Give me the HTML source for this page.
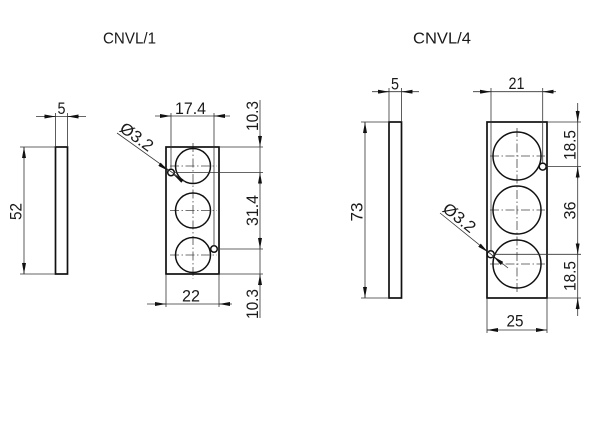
<!DOCTYPE html>
<html><head><meta charset="utf-8"><style>
html,body{margin:0;padding:0;background:#fff;}
svg{display:block;}
text{font-family:"Liberation Sans",sans-serif;fill:#1a1a1a;}
.o{fill:none;stroke:#111;stroke-width:1.7;}
.c{fill:none;stroke:#111;stroke-width:1.5;}
.t{fill:none;stroke:#333;stroke-width:0.8;}
.cl{fill:none;stroke:#444;stroke-width:0.8;stroke-dasharray:9 2.5 1.5 2.5;}
.a{fill:none;stroke:#333;stroke-width:0.8;marker-end:url(#ar);}
.d{font-size:16.5px;}
.ti{font-size:16px;}
</style></head><body>
<svg width="600" height="422" viewBox="0 0 600 422" xmlns="http://www.w3.org/2000/svg">
<defs>
<marker id="ar" viewBox="0 0 11 4" refX="11" refY="2" markerWidth="11" markerHeight="4" markerUnits="userSpaceOnUse" orient="auto"><path d="M0,0L11,2L0,4z" fill="#111"/></marker>
</defs>
<rect width="600" height="422" fill="#fff"/>

<!-- LEFT GROUP -->
<text class="ti" x="103" y="43.5" textLength="53" lengthAdjust="spacingAndGlyphs">CNVL/1</text>

<!-- side plate -->
<rect class="o" x="55.5" y="147" width="12" height="127"/>
<line class="t" x1="36" y1="116.5" x2="86" y2="116.5"/>
<line class="t" x1="55.5" y1="113" x2="55.5" y2="147"/>
<line class="t" x1="67.5" y1="113" x2="67.5" y2="147"/>
<path class="a" d="M44,116.5L55.5,116.5"/>
<path class="a" d="M79,116.5L67.5,116.5"/>
<text class="d" x="61.5" y="114" text-anchor="middle" textLength="8" lengthAdjust="spacingAndGlyphs">5</text>
<line class="t" x1="24" y1="147" x2="24" y2="274"/>
<line class="t" x1="20" y1="147" x2="55" y2="147"/>
<line class="t" x1="20" y1="274" x2="55" y2="274"/>
<path class="a" d="M24,159L24,147"/>
<path class="a" d="M24,262L24,274"/>
<text class="d" x="21.5" y="211.5" text-anchor="middle" textLength="17" lengthAdjust="spacingAndGlyphs" transform="rotate(-90 21.5 211.5)">52</text>

<!-- front view -->
<line class="cl" x1="193" y1="143" x2="193" y2="279"/>
<line class="cl" x1="170" y1="166" x2="217" y2="166"/>
<line class="cl" x1="170" y1="210.5" x2="217" y2="210.5"/>
<line class="cl" x1="170" y1="255" x2="217" y2="255"/>
<rect class="o" x="166" y="147" width="53" height="127"/>
<circle class="c" cx="193" cy="166" r="17.5"/>
<circle class="c" cx="193" cy="210.5" r="17.5"/>
<circle class="c" cx="193" cy="255" r="17.5"/>
<circle class="c" cx="171" cy="172.5" r="3.3" stroke-width="1.2"/>
<circle class="c" cx="214" cy="249" r="3.3" stroke-width="1.2"/>

<!-- dim 17.4 -->
<line class="t" x1="155" y1="116" x2="230" y2="116"/>
<line class="t" x1="171" y1="113" x2="171" y2="169"/>
<line class="t" x1="214" y1="113" x2="214" y2="246"/>
<path class="a" d="M160,116L171,116"/>
<path class="a" d="M225,116L214,116"/>
<text class="d" x="190.5" y="114" text-anchor="middle" textLength="31" lengthAdjust="spacingAndGlyphs">17.4</text>

<!-- dim 22 -->
<line class="t" x1="147" y1="304" x2="232" y2="304"/>
<line class="t" x1="166" y1="274" x2="166" y2="307"/>
<line class="t" x1="219" y1="274" x2="219" y2="307"/>
<path class="a" d="M155,304L166,304"/>
<path class="a" d="M230,304L219,304"/>
<text class="d" x="191" y="301.5" text-anchor="middle" textLength="18" lengthAdjust="spacingAndGlyphs">22</text>

<!-- right vertical dims -->
<line class="t" x1="260" y1="100" x2="260" y2="318"/>
<line class="t" x1="219" y1="147" x2="263" y2="147"/>
<line class="t" x1="174" y1="172.5" x2="263" y2="172.5"/>
<line class="t" x1="217" y1="249" x2="263" y2="249"/>
<line class="t" x1="219" y1="274" x2="263" y2="274"/>
<path class="a" d="M260,135L260,147"/>
<path class="a" d="M260,184.5L260,172.5"/>
<path class="a" d="M260,237L260,249"/>
<path class="a" d="M260,286L260,274"/>
<text class="d" x="258" y="116" text-anchor="middle" textLength="30" lengthAdjust="spacingAndGlyphs" transform="rotate(-90 258 116)">10.3</text>
<text class="d" x="258" y="210.5" text-anchor="middle" textLength="31" lengthAdjust="spacingAndGlyphs" transform="rotate(-90 258 210.5)">31.4</text>
<text class="d" x="258" y="304" text-anchor="middle" textLength="30" lengthAdjust="spacingAndGlyphs" transform="rotate(-90 258 304)">10.3</text>

<!-- leader Ø3.2 left -->
<line class="t" x1="117" y1="133" x2="185" y2="181.7"/>
<path class="a" d="M159.4,164.2L168.3,170.7"/>
<path class="a" d="M182.6,181.2L173.7,174.7"/>
<text class="d" x="118.5" y="130.5" textLength="37" lengthAdjust="spacingAndGlyphs" transform="rotate(36 118.5 130.5)">Ø3.2</text>

<!-- RIGHT GROUP -->
<text class="ti" x="413" y="43.5" textLength="58" lengthAdjust="spacingAndGlyphs">CNVL/4</text>

<!-- side plate -->
<rect class="o" x="389" y="122" width="12.5" height="176"/>
<line class="t" x1="372" y1="91.7" x2="419" y2="91.7"/>
<line class="t" x1="389" y1="88" x2="389" y2="122"/>
<line class="t" x1="401.5" y1="88" x2="401.5" y2="122"/>
<path class="a" d="M378,91.7L389,91.7"/>
<path class="a" d="M412.5,91.7L401.5,91.7"/>
<text class="d" x="395" y="89.5" text-anchor="middle" textLength="8" lengthAdjust="spacingAndGlyphs">5</text>
<line class="t" x1="365" y1="122" x2="365" y2="298"/>
<line class="t" x1="361" y1="122" x2="389" y2="122"/>
<line class="t" x1="361" y1="298" x2="389" y2="298"/>
<path class="a" d="M365,134L365,122"/>
<path class="a" d="M365,286L365,298"/>
<text class="d" x="362.5" y="212" text-anchor="middle" textLength="19" lengthAdjust="spacingAndGlyphs" transform="rotate(-90 362.5 212)">73</text>

<!-- front view -->
<line class="cl" x1="517" y1="128" x2="517" y2="294"/>
<line class="cl" x1="490" y1="156" x2="545" y2="156"/>
<line class="cl" x1="490" y1="210" x2="545" y2="210"/>
<line class="cl" x1="490" y1="264" x2="545" y2="264"/>
<rect class="o" x="487" y="122" width="60" height="176"/>
<circle class="c" cx="517" cy="156" r="24"/>
<circle class="c" cx="517" cy="210" r="24"/>
<circle class="c" cx="517" cy="264" r="24"/>
<circle class="c" cx="542.7" cy="166.6" r="3.5" stroke-width="1.2"/>
<circle class="c" cx="490.7" cy="254.3" r="3.5" stroke-width="1.2"/>

<!-- dim 21 -->
<line class="t" x1="473" y1="91.7" x2="556" y2="91.7"/>
<line class="t" x1="491" y1="88" x2="491" y2="251"/>
<line class="t" x1="542.7" y1="88" x2="542.7" y2="163"/>
<path class="a" d="M480,91.7L491,91.7"/>
<path class="a" d="M553.7,91.7L542.7,91.7"/>
<text class="d" x="516.5" y="89" text-anchor="middle" textLength="16" lengthAdjust="spacingAndGlyphs">21</text>

<!-- dim 25 -->
<line class="t" x1="487" y1="330" x2="547" y2="330"/>
<line class="t" x1="487" y1="298" x2="487" y2="333"/>
<line class="t" x1="547" y1="298" x2="547" y2="333"/>
<path class="a" d="M498,330L487,330"/>
<path class="a" d="M536,330L547,330"/>
<text class="d" x="515" y="326.5" text-anchor="middle" textLength="17" lengthAdjust="spacingAndGlyphs">25</text>

<!-- right vertical dims -->
<line class="t" x1="577.7" y1="103" x2="577.7" y2="316"/>
<line class="t" x1="547" y1="122" x2="581" y2="122"/>
<line class="t" x1="546" y1="166.6" x2="581" y2="166.6"/>
<line class="t" x1="494" y1="254.3" x2="581" y2="254.3"/>
<line class="t" x1="547" y1="298" x2="581" y2="298"/>
<path class="a" d="M577.7,110L577.7,122"/>
<path class="a" d="M577.7,178.6L577.7,166.6"/>
<path class="a" d="M577.7,242.3L577.7,254.3"/>
<path class="a" d="M577.7,310L577.7,298"/>
<text class="d" x="575.5" y="145" text-anchor="middle" textLength="30" lengthAdjust="spacingAndGlyphs" transform="rotate(-90 575.5 145)">18.5</text>
<text class="d" x="575.5" y="210.5" text-anchor="middle" textLength="18" lengthAdjust="spacingAndGlyphs" transform="rotate(-90 575.5 210.5)">36</text>
<text class="d" x="575.5" y="276" text-anchor="middle" textLength="30" lengthAdjust="spacingAndGlyphs" transform="rotate(-90 575.5 276)">18.5</text>

<!-- leader Ø3.2 right -->
<line class="t" x1="440" y1="213" x2="508" y2="268"/>
<path class="a" d="M479.5,245.2L488,252.1"/>
<path class="a" d="M501.9,263.4L493.4,256.5"/>
<text class="d" x="441.5" y="210.5" textLength="37" lengthAdjust="spacingAndGlyphs" transform="rotate(39 441.5 210.5)">Ø3.2</text>
</svg>
</body></html>
